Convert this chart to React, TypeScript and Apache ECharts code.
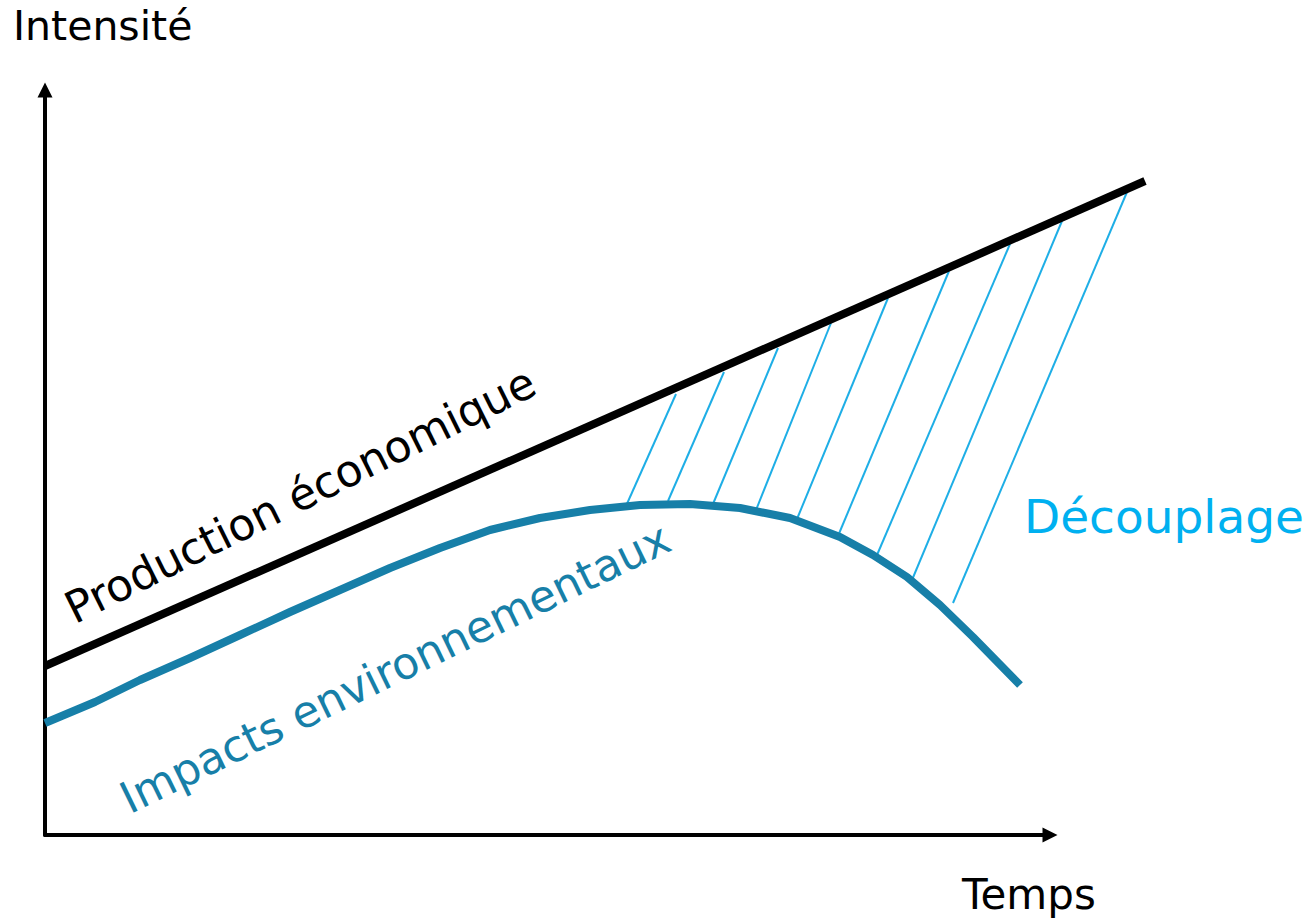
import React, { useEffect, useRef } from "react";
import * as echarts from "echarts";

// Data units: 1 unit = 1 px on the reference (origin at the axes' corner)
const productionX = [0, 1100];
const productionY = [169, 654];

const impactX = [0, 50, 95, 145, 195, 245, 295, 345, 395, 445, 495, 545, 595, 645, 695, 745, 795, 828, 862, 895, 928, 975];
const impactY = [112, 133, 155, 177, 200, 223, 245, 267, 287, 305, 317, 325, 330, 331, 327, 317, 298, 280, 258, 230, 198, 150];

const hatchTopX = [631, 679, 733, 786, 843, 904, 965, 1017, 1082];
const hatchTopY = [441, 463, 487, 512, 537, 564, 591, 614, 643];
const hatchBottomX = [581, 623, 668, 711, 752, 793, 832, 867, 908];
const hatchBottomY = [329, 334, 331, 325, 316, 299, 280, 255, 232];

const yTitle = "Intensité";
const xTitle = "Temps";
const productionLabel = "Production économique";
const impactLabel = "Impacts environnementaux";
const decouplingLabel = "Découplage";

const FONT = "'DejaVu Sans', sans-serif";
const BLUE = "#177fa8";
const LIGHT = "#1eaee6";
const DECOUP = "#00b0f0";

const hiddenAxis = {
  show: false,
  axisLine: { show: false },
  axisTick: { show: false },
  axisLabel: { show: false },
  splitLine: { show: false },
};

const arrowAxisLine = {
  show: true,
  symbol: ["none", "triangle"],
  symbolSize: [15, 15],
  lineStyle: { color: "#000", width: 4 },
};

export default function App() {
  const ref = useRef<HTMLDivElement>(null);
  useEffect(() => {
    if (!ref.current) return;
    const chart = echarts.init(ref.current, undefined, { renderer: "svg" });
    const deg = Math.PI / 180;
    chart.setOption({
      animation: false,
      backgroundColor: "#ffffff",
      grid: [
        { left: 45, top: 90, width: 1005, height: 745 },
        { left: 45, top: 90, width: 1105, height: 745 },
      ],
      xAxis: [
        {
          type: "value",
          gridIndex: 0,
          min: 0,
          max: 1005,
          axisLine: arrowAxisLine,
          axisTick: { show: false },
          axisLabel: { show: false },
          splitLine: { show: false },
        },
        { type: "value", gridIndex: 1, min: 0, max: 1105, ...hiddenAxis },
      ],
      yAxis: [
        {
          type: "value",
          gridIndex: 0,
          min: 0,
          max: 745,
          axisLine: arrowAxisLine,
          axisTick: { show: false },
          axisLabel: { show: false },
          splitLine: { show: false },
        },
        { type: "value", gridIndex: 1, min: 0, max: 745, ...hiddenAxis },
      ],
      series: [
        {
          type: "lines",
          coordinateSystem: "cartesian2d",
          xAxisIndex: 1,
          yAxisIndex: 1,
          clip: false,
          z: 1,
          lineStyle: { color: LIGHT, width: 2, opacity: 1 },
          data: hatchTopX.map((x, i) => ({
            coords: [
              [x, hatchTopY[i]],
              [hatchBottomX[i], hatchBottomY[i]],
            ],
          })),
        },
        {
          type: "line",
          xAxisIndex: 1,
          yAxisIndex: 1,
          clip: false,
          z: 3,
          showSymbol: false,
          symbol: "none",
          lineStyle: { color: "#000", width: 8 },
          data: productionX.map((x, i) => [x, productionY[i]]),
        },
        {
          type: "line",
          xAxisIndex: 1,
          yAxisIndex: 1,
          clip: false,
          z: 3,
          showSymbol: false,
          symbol: "none",
          smooth: false,
          lineStyle: { color: BLUE, width: 8, join: "round" },
          data: impactX.map((x, i) => [x, impactY[i]]),
        },
      ],
      graphic: [
        {
          type: "text",
          x: 13,
          y: 26,
          style: { text: yTitle, font: `41px ${FONT}`, fill: "#000", align: "left", verticalAlign: "middle" },
        },
        {
          type: "text",
          x: 962,
          y: 894,
          style: { text: xTitle, font: `42px ${FONT}`, fill: "#000", align: "left", verticalAlign: "middle" },
        },
        {
          type: "text",
          x: 1024,
          y: 516,
          style: { text: decouplingLabel, font: `47px ${FONT}`, fill: DECOUP, align: "left", verticalAlign: "middle" },
        },
        {
          type: "text",
          x: 300,
          y: 495,
          rotation: 26.5 * deg,
          style: { text: productionLabel, font: `44px ${FONT}`, fill: "#000", align: "center", verticalAlign: "middle" },
        },
        {
          type: "text",
          x: 395,
          y: 668,
          rotation: 26 * deg,
          style: { text: impactLabel, font: `44px ${FONT}`, fill: BLUE, align: "center", verticalAlign: "middle" },
        },
      ],
    });
    return () => chart.dispose();
  }, []);
  return <div ref={ref} style={{ position: "fixed", left: 0, top: 0, width: 1314, height: 920 }} />;
}
